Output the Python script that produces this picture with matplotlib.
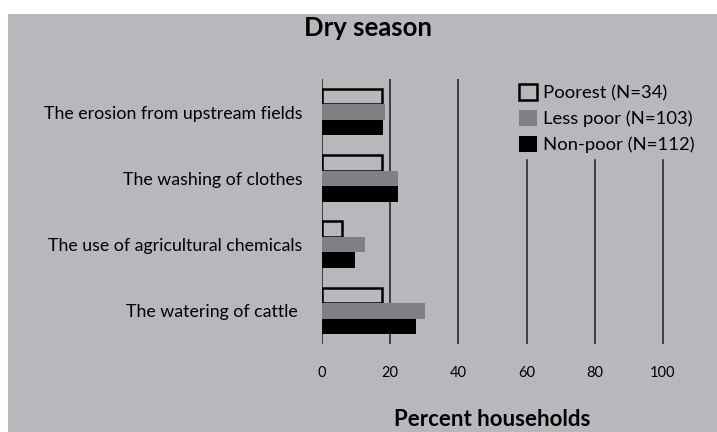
import matplotlib
matplotlib.use("Agg")
import matplotlib.pyplot as plt
import matplotlib.patches as mpatches
import numpy as np

plt.rcParams["font.family"] = ["Lato", "DejaVu Sans"]

causes = [
    "The erosion from upstream fields",
    "The washing of clothes",
    "The use of agricultural chemicals",
    "The watering of cattle ",
]
poorest = [17.6, 17.6, 5.9, 17.6]
less_poor = [18.4, 22.3, 12.6, 30.1]
non_poor = [17.9, 22.3, 9.8, 27.7]
series_labels = ["Poorest (N=34)", "Less poor (N=103)", "Non-poor (N=112)"]
x_ticks = [0, 20, 40, 60, 80, 100]

BG = "#b7b8bc"
MID = "#7f8084"

W, H = 717, 432
fig = plt.figure(figsize=(W / 100, H / 100), dpi=100, facecolor="white")
fig.patches.append(mpatches.Rectangle((8 / W, 0), 1, (H - 14) / H,
                                      transform=fig.transFigure,
                                      facecolor=BG, edgecolor="none", zorder=-10))

ax = fig.add_axes([322 / W, (H - 344) / H, 375 / W, 265 / H])
ax.set_facecolor("none")
for s in ax.spines.values():
    s.set_visible(False)

y = np.arange(len(causes))[::-1]
bh = 0.235
ax.barh(y + bh, poorest, height=bh, color=BG, edgecolor="black",
        linewidth=1.8, zorder=3)
ax.barh(y, less_poor, height=bh, color=MID, edgecolor="none", zorder=3)
ax.barh(y - bh, non_poor, height=bh, color="black", edgecolor="none", zorder=3)

ax.set_xlim(0, 110)
ax.set_ylim(-0.5, 3.5)

# gridlines on the right side stop below the legend
for t in x_ticks:
    top = 1.0 if t <= 40 else 0.695
    ax.axvline(t, ymin=0, ymax=top, color="#1e1e1e", linewidth=1.1, zorder=1)

ax.set_xticks(x_ticks)
ax.set_xticklabels([str(t) for t in x_ticks], fontsize=10.5)
ax.set_yticks(y)
ax.set_yticklabels(causes, fontsize=12.8)
ax.tick_params(axis="x", length=0, pad=16)
ax.tick_params(axis="y", length=0, pad=14)

fig.text(492 / W, 1 - 419 / H, "Percent households", ha="center", va="center",
         fontsize=16, fontweight="bold")
fig.text(368 / W, 1 - 28 / H, "Dry season", ha="center", va="center",
         fontsize=18.5, fontweight="bold")

handles = [
    mpatches.Patch(facecolor=BG, edgecolor="black", linewidth=1.8, label=series_labels[0]),
    mpatches.Patch(facecolor=MID, edgecolor="none", label=series_labels[1]),
    mpatches.Patch(facecolor="black", edgecolor="none", label=series_labels[2]),
]
fig.legend(handles=handles, loc="upper left",
           bbox_to_anchor=(512 / W, 1 - 77 / H), frameon=False,
           fontsize=13.3, handlelength=0.95, handleheight=0.95,
           handletextpad=0.35, labelspacing=0.45, borderaxespad=0)

fig.savefig("out.png", dpi=100, facecolor="white")
